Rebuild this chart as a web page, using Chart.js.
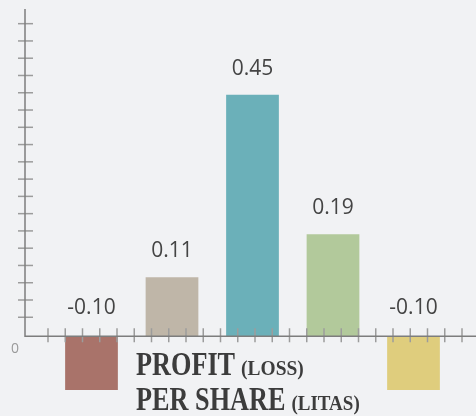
<!DOCTYPE html>
<html>
<head>
<meta charset="utf-8">
<script src="https://cdn.jsdelivr.net/npm/chart.js@4"></script>
<style>
  html, body { margin: 0; padding: 0; background: #f1f2f4; }
  canvas { display: block; }
</style>
</head>
<body>
<canvas id="chart" width="476" height="416"></canvas>
<script>
// chart data
const categories = ['Year 1', 'Year 2', 'Year 3', 'Year 4', 'Year 5'];
const profitPerShare = [-0.10, 0.11, 0.45, 0.19, -0.10];
const valueLabels = ['-0.10', '0.11', '0.45', '0.19', '-0.10'];
const barColors = ['#a9736a', '#bfb6a8', '#6bb0b9', '#b2c99b', '#dfcd7d'];
const zeroLabel = '0';
const titleLines = [
  { main: 'PROFIT', sub: '(LOSS)' },
  { main: 'PER SHARE', sub: '(LITAS)' }
];

// axis lines + decorative ticks, drawn over the bars
const axisPlugin = {
  id: 'axisPlugin',
  afterDatasetsDraw(chart) {
    const ctx = chart.ctx;
    const y = chart.scales.y;
    const zeroY = y.getPixelForValue(0);
    const axisX = 25;
    const gap = 17.27;

    ctx.save();
    // tick marks on the vertical axis
    ctx.strokeStyle = '#9c9c9c';
    ctx.lineWidth = 1.5;
    for (let ty = zeroY - 19; ty > chart.chartArea.top + 5; ty -= gap) {
      ctx.beginPath();
      ctx.moveTo(axisX - 7, ty);
      ctx.lineTo(axisX + 8, ty);
      ctx.stroke();
    }
    // tick marks on the horizontal axis
    for (let tx = axisX + 23; tx < chart.width; tx += 17.25) {
      ctx.beginPath();
      ctx.moveTo(tx, zeroY - 8);
      ctx.lineTo(tx, zeroY + 6);
      ctx.stroke();
    }
    // axis lines
    ctx.strokeStyle = '#7d7d7d';
    ctx.lineWidth = 1.5;
    ctx.beginPath();
    ctx.moveTo(axisX, chart.chartArea.top);
    ctx.lineTo(axisX, zeroY);
    ctx.lineTo(chart.width, zeroY);
    ctx.stroke();

    // zero label
    ctx.fillStyle = '#9a9a9a';
    ctx.font = "14px 'Open Sans'";
    ctx.textAlign = 'center';
    ctx.textBaseline = 'alphabetic';
    ctx.fillText(zeroLabel, 15, zeroY + 17);

    // value labels
    const meta = chart.getDatasetMeta(0);
    ctx.fillStyle = '#444444';
    ctx.font = "21px 'Open Sans'";
    meta.data.forEach((bar, i) => {
      const v = profitPerShare[i];
      const by = v >= 0 ? bar.y - 20 : zeroY - 22;
      ctx.fillText(valueLabels[i], bar.x, by);
    });
    ctx.restore();
  }
};

// title block under the axis
const titlePlugin = {
  id: 'titlePlugin',
  afterDraw(chart) {
    const ctx = chart.ctx;
    ctx.save();
    ctx.fillStyle = '#3c3c3c';
    ctx.textAlign = 'left';
    ctx.textBaseline = 'alphabetic';
    const baselines = [375, 410];
    const subScale = [0.9, 0.88];
    titleLines.forEach((line, i) => {
      let x = 136;
      ctx.font = "bold 32.8px 'Liberation Serif'";
      const w = ctx.measureText(line.main).width * 0.8;
      ctx.save();
      ctx.translate(x, baselines[i]);
      ctx.scale(0.8, 1);
      ctx.fillText(line.main, 0, 0);
      ctx.restore();
      x += w + 6;
      ctx.font = "bold 21.6px 'Liberation Serif'";
      ctx.save();
      ctx.translate(x, baselines[i]);
      ctx.scale(subScale[i], 1);
      ctx.fillText(line.sub, 0, 0);
      ctx.restore();
    });
    ctx.restore();
  }
};

new Chart(document.getElementById('chart').getContext('2d'), {
  type: 'bar',
  data: {
    labels: categories,
    datasets: [{
      data: profitPerShare,
      backgroundColor: barColors,
      borderWidth: 0,
      barPercentage: 0.655,
      categoryPercentage: 1
    }]
  },
  options: {
    responsive: false,
    animation: false,
    layout: { padding: { left: 51.25, right: 22.25, top: 9, bottom: 15.3 } },
    plugins: {
      legend: { display: false },
      tooltip: { enabled: false },
      title: { display: false }
    },
    scales: {
      x: { display: false },
      y: { display: false, min: -0.12, max: 0.6095 }
    }
  },
  plugins: [axisPlugin, titlePlugin]
});
</script>
</body>
</html>
